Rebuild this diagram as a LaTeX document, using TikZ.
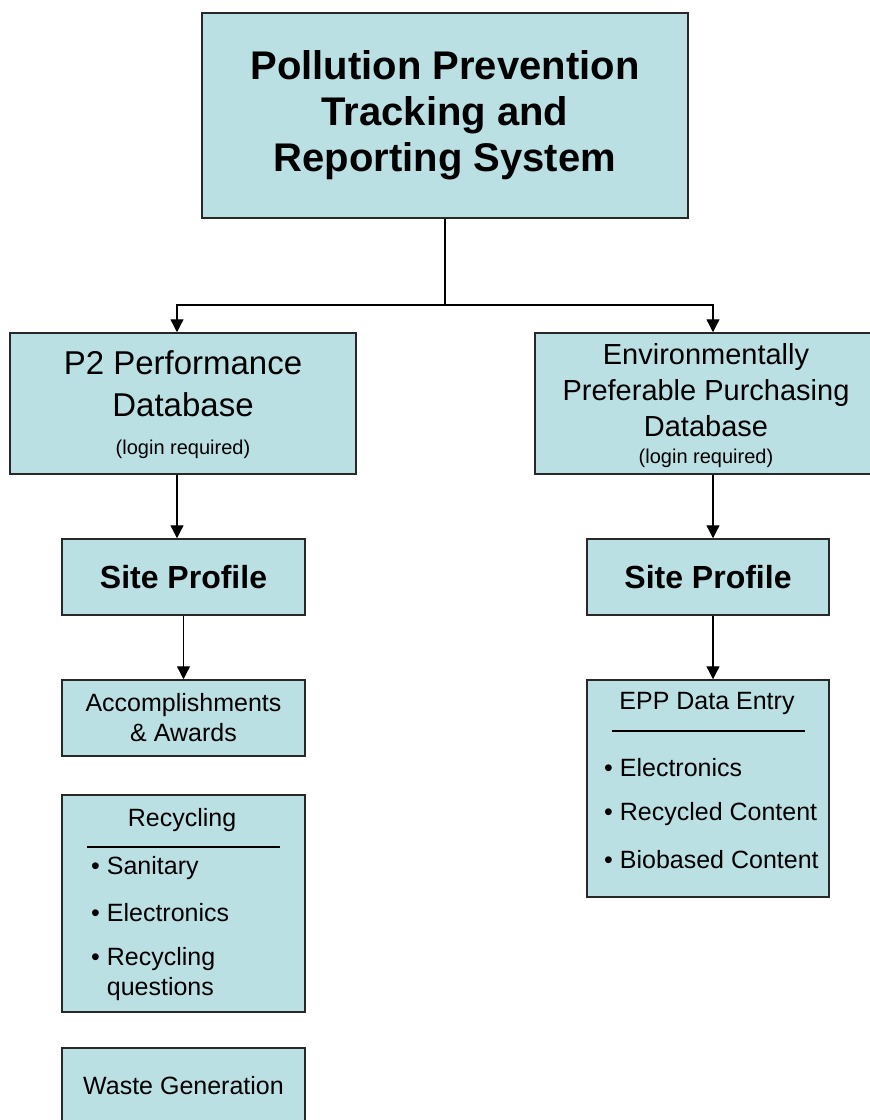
\documentclass[tikz,border=0pt]{standalone}
\usepackage{fontspec}
\setmainfont{Liberation Sans}
\usetikzlibrary{arrows.meta}
\definecolor{boxfill}{RGB}{187,224,227}
\definecolor{boxline}{RGB}{40,40,40}
\begin{document}
\begin{tikzpicture}[x=1pt,y=-1pt,
  box/.style={draw=boxline,line width=1.5pt,fill=boxfill,inner sep=0pt,align=center},
  arr/.style={-{Triangle[width=13pt,length=13pt]},line width=1.3pt},
  txt/.style={inner sep=0pt,align=center},
  item/.style={inner sep=0pt,anchor=west,align=left,font=\fontsize{25}{30}\selectfont}]
\useasboundingbox (0,0) rectangle (870,1120);
\clip (0,0) rectangle (870,1120);
\fill[white] (0,0) rectangle (870,1120);
% top of the tree
\node[box,minimum width=486pt,minimum height=205pt,font=\bfseries\fontsize{40}{46}\selectfont] (title) at (445,115.5)
  {Pollution Prevention\\Tracking and\\Reporting System};
\coordinate (split) at (445,305);
\coordinate (lcol) at (177,0);
\coordinate (rcol) at (713,0);
% the two databases
\node[box,minimum width=346pt,minimum height=141pt] (ptwo) at (183,403.5) {};
\node[txt,font=\fontsize{33}{42}\selectfont] (ptwotxt) at (183,384) {P2 Performance\\Database};
\node[txt,font=\fontsize{20}{24}\selectfont] (ptwologin) at (183,449) {(login required)};
\node[box,minimum width=355pt,minimum height=141pt] (epp) at (712.5,403.5) {};
\node[txt,font=\fontsize{29}{36}\selectfont] (epptxt) at (706,390) {Environmentally\\Preferable Purchasing\\Database};
\node[txt,font=\fontsize{20}{24}\selectfont] (epplogin) at (706,458) {(login required)};
% site profiles
\node[box,minimum width=243pt,minimum height=76pt,font=\bfseries\fontsize{32}{38}\selectfont] (siteL) at (183.5,577) {Site Profile};
\node[box,minimum width=242pt,minimum height=76pt,font=\bfseries\fontsize{32}{38}\selectfont] (siteR) at (708,577) {Site Profile};
% left column
\node[box,minimum width=243pt,minimum height=76pt,font=\fontsize{25}{30}\selectfont] (accomp) at (183.5,718) {Accomplishments\\\& Awards};
\node[box,minimum width=243pt,minimum height=217pt] (recyc) at (183.5,903.5) {};
\node[txt,font=\fontsize{25}{30}\selectfont] (recychead) at (182,820) {Recycling};
\draw[line width=1.3pt] (87,847) -- (280,847);
\node[item] (sanit) at (91,868) {\textbullet\ Sanitary};
\node[item] (electL) at (91,913) {\textbullet\ Electronics};
\node[item] (recq) at (91,974) {\textbullet\ Recycling\\\phantom{\textbullet\ }questions};
\node[box,minimum width=243pt,minimum height=76pt,font=\fontsize{25}{30}\selectfont] (waste) at (183.5,1086) {Waste Generation};
% right column
\node[box,minimum width=242pt,minimum height=217pt] (epde) at (708,788.5) {};
\node[txt,font=\fontsize{25}{30}\selectfont] (epdehead) at (707,703) {EPP Data Entry};
\draw[line width=1.3pt] (612,731) -- (805,731);
\node[item] (electR) at (604,768) {\textbullet\ Electronics};
\node[item] (recyccont) at (604,814) {\textbullet\ Recycled Content};
\node[item] (biocont) at (604,860) {\textbullet\ Biobased Content};
% connectors
\draw[line width=1.3pt] (title) -- (split);
\draw[arr] (split) -| (lcol |- ptwo.north);
\draw[arr] (split) -| (rcol |- epp.north);
\draw[arr] (lcol |- ptwo.south) -- (lcol |- siteL.north);
\draw[arr] (rcol |- epp.south) -- (rcol |- siteR.north);
\draw[arr] (siteL) -- (accomp);
\draw[arr] (rcol |- siteR.south) -- (rcol |- epde.north);
\end{tikzpicture}
\end{document}
